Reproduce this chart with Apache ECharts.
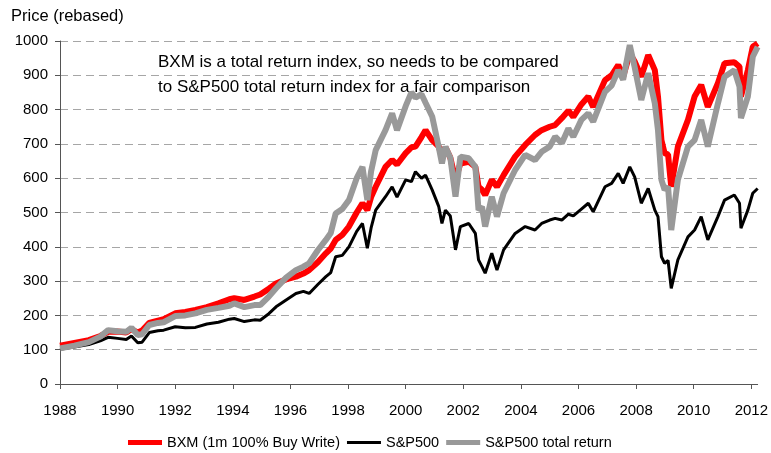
<!DOCTYPE html>
<html>
<head>
<meta charset="utf-8">
<script src="https://cdn.jsdelivr.net/npm/echarts@6/dist/echarts.min.js"></script>
<style>
html,body{margin:0;padding:0;background:#fff;}
#c{width:771px;height:453px;}
</style>
</head>
<body>
<div id="c"></div>
<script>
const dates = [1988.0,1988.5,1989.0,1989.4,1989.67,1990.0,1990.3,1990.48,1990.7,1990.85,1991.1,1991.4,1991.6,1992.0,1992.35,1992.7,1993.1,1993.5,1993.88,1994.05,1994.4,1994.75,1994.95,1995.25,1995.5,1995.85,1996.19,1996.45,1996.65,1996.95,1997.23,1997.4,1997.57,1997.8,1998.03,1998.3,1998.5,1998.67,1998.8,1998.96,1999.3,1999.53,1999.7,2000.0,2000.2,2000.34,2000.55,2000.69,2000.92,2001.15,2001.26,2001.38,2001.55,2001.73,2001.9,2002.19,2002.42,2002.53,2002.65,2002.76,2002.99,2003.17,2003.4,2003.8,2004.15,2004.49,2004.72,2005.0,2005.19,2005.42,2005.65,2005.82,2006.1,2006.34,2006.51,2006.92,2007.15,2007.38,2007.55,2007.78,2007.95,2008.18,2008.42,2008.65,2008.76,2008.88,2008.99,2009.11,2009.22,2009.45,2009.8,2010.03,2010.26,2010.49,2010.84,2011.07,2011.41,2011.59,2011.64,2011.88,2012.05,2012.22];
const bxm = [112,120,128,140,152,153,150,160,150,156,178,185,189,206,210,216,224,235,247,250,245,255,261,278,293,305,313,322,332,355,381,395,420,435,459,500,527,507,545,575,633,653,640,673,690,692,720,740,711,692,663,690,660,595,643,648,633,575,566,551,595,575,609,663,697,726,740,750,755,775,797,779,815,838,808,886,900,930,896,964,940,896,959,915,838,711,673,669,575,692,770,838,872,808,877,935,938,925,838,915,983,993];
const spx = [101,108,115,126,136,133,130,140,120,122,150,155,157,167,164,165,175,180,189,191,182,187,186,205,225,245,264,270,264,290,313,325,371,375,400,445,468,396,455,507,546,575,545,595,590,619,600,609,566,517,468,507,490,391,459,468,439,362,342,323,381,332,391,439,459,449,468,478,483,478,495,490,510,527,502,575,585,614,585,633,604,527,570,507,488,371,352,360,279,362,429,449,488,420,488,536,551,527,454,507,556,570];
const sptr = [104,112,122,138,157,154,152,164,143,145,172,178,180,198,200,206,216,222,228,235,224,230,230,255,279,310,332,342,352,390,420,440,497,510,536,600,633,536,620,682,740,789,740,810,850,835,845,820,780,690,643,692,660,546,663,658,633,507,517,459,546,488,556,624,668,653,677,692,721,702,745,721,770,789,765,852,870,915,887,988,924,828,906,818,740,595,566,575,449,595,692,711,770,692,818,896,915,867,775,838,954,983];
const yearTicks = [1988,1990,1992,1994,1996,1998,2000,2002,2004,2006,2008,2010,2012];
const seriesNames = ['BXM (1m 100% Buy Write)','S&P500','S&P500 total return'];

const pairs = v => dates.map((d,i)=>[d,v[i]]);
const font = '"Liberation Sans", Arial, sans-serif';
const chart = echarts.init(document.getElementById('c'));
chart.setOption({
  animation:false,
  textStyle:{fontFamily:font},
  grid:{left:60,right:11,top:41,bottom:69},
  graphic:[
    {type:'text',left:11,top:8,style:{text:'Price (rebased)',font:'16.5px '+font,fill:'#000'}},
    {type:'text',left:158,top:50,style:{text:'BXM is a total return index, so needs to be compared\nto S&P500 total return index for a fair comparison',font:'17px '+font,fill:'#000',lineHeight:25}}
  ],
  legend:{left:128,top:435,padding:0,itemWidth:34,itemHeight:5,itemGap:7,
    textStyle:{fontSize:14.5,color:'#000',fontFamily:font},
    data:[
      {name:seriesNames[0],icon:'path://M0,0L34,0L34,5L0,5Z'},
      {name:seriesNames[1],icon:'path://M0,0L34,0L34,3L0,3Z'},
      {name:seriesNames[2],icon:'path://M0,0L34,0L34,5L0,5Z'}
    ]},
  xAxis:{type:'value',min:1988,max:2012.22,interval:2,
    axisLine:{lineStyle:{color:'#555',width:1}},
    axisTick:{show:true,length:5,customValues:yearTicks,lineStyle:{color:'#555'}},
    axisLabel:{customValues:yearTicks,fontSize:15,color:'#000',margin:19,fontFamily:font,formatter:v=>String(Math.round(v))},
    splitLine:{show:false}},
  yAxis:{type:'value',min:0,max:1000,interval:100,
    axisLine:{show:true,lineStyle:{color:'#555',width:1}},
    axisTick:{show:true,length:5,lineStyle:{color:'#555'}},
    axisLabel:{fontSize:15,color:'#000',margin:12,fontFamily:font,formatter:v=>String(v)},
    splitLine:{show:true,lineStyle:{color:'#a6a6a6',type:[8,5],width:1}}},
  series:[
    {name:seriesNames[0],type:'line',data:pairs(bxm),symbol:'none',lineStyle:{color:'#ff0000',width:6},itemStyle:{color:'#ff0000'},z:2},
    {name:seriesNames[1],type:'line',data:pairs(spx),symbol:'none',lineStyle:{color:'#000000',width:3},itemStyle:{color:'#000000'},z:3},
    {name:seriesNames[2],type:'line',data:pairs(sptr),symbol:'none',lineStyle:{color:'#999999',width:6},itemStyle:{color:'#999999'},z:4}
  ]
});
</script>
</body>
</html>
